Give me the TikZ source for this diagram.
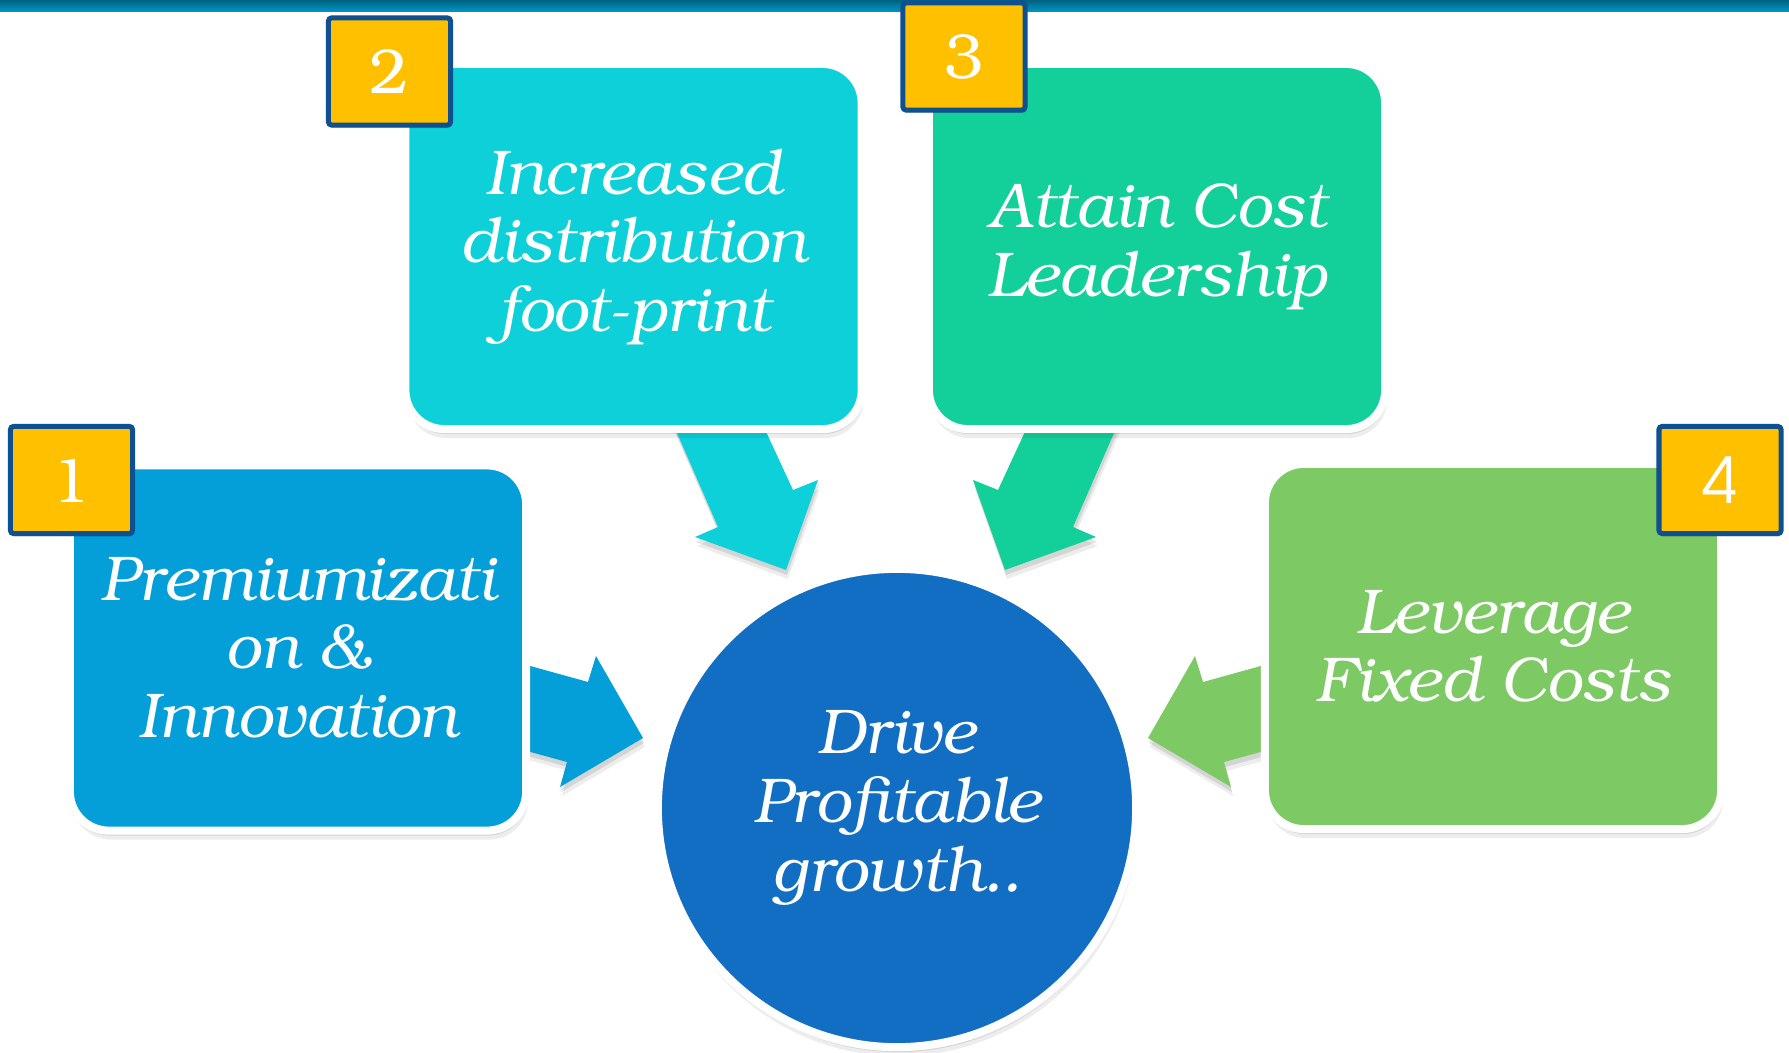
\documentclass[tikz,border=0pt]{standalone}
\usepackage[T1]{fontenc}
\usepackage{bookman}
\usetikzlibrary{shadows}
\definecolor{cBoxA}{HTML}{049FD9}
\definecolor{cBoxB}{HTML}{0DD0D9}
\definecolor{cBoxC}{HTML}{13CF9A}
\definecolor{cBoxD}{HTML}{7DCA64}
\definecolor{cCirc}{HTML}{116EC3}
\definecolor{cBadge}{HTML}{FFC000}
\definecolor{cBadgeB}{HTML}{0E5090}
\definecolor{cBarTop}{HTML}{00627F}
\definecolor{cBarBot}{HTML}{0098CC}
\tikzset{
  softshadow/.style={
    general shadow={fill=black,opacity=0.07,shadow xshift=0.02cm,shadow yshift=-0.09cm},
    general shadow={fill=black,opacity=0.10,shadow xshift=0.01cm,shadow yshift=-0.05cm}},
  rimshadow/.style={
    general shadow={fill=black,opacity=0.10,shadow scale=1.014}},
  tile/.style={rectangle, rounded corners=0.39cm, draw=white, line width=0.08cm,
    minimum width=4.56cm, minimum height=3.65cm, softshadow, rimshadow,
    text=white, align=center, font=\fontsize{18}{19.5}\selectfont\itshape},
  hub/.style={circle, draw=white, line width=0.08cm, fill=cCirc, minimum size=4.78cm,
    softshadow, rimshadow, text=white, align=center, font=\fontsize{18}{19.6}\selectfont\itshape},
  badge/.style={rectangle, rounded corners=0.03cm, draw=cBadgeB, line width=0.05cm,
    fill=cBadge, minimum width=1.22cm, minimum height=1.07cm, text=white,
    font=\fontsize{18}{20}\selectfont,
    general shadow={fill=black,opacity=0.12,shadow xshift=0.01cm,shadow yshift=-0.03cm}},
  blockarrow/.style={softshadow}
}
\begin{document}
\begin{tikzpicture}[x=0.01cm,y=-0.01cm]
\useasboundingbox (0,0) rectangle (1789,1052);
\fill[white] (0,0) rectangle (1789,1052);
\shade[top color=cBarTop, bottom color=cBarBot] (0,0) rectangle (1789,12);

% block arrows (drawn first, under the tiles)
\fill[cBoxA, blockarrow] (505,659) -- (588,682) -- (596,656) -- (643,738) -- (560,787) -- (567,762) -- (505,745) -- cycle;
\fill[cBoxD, blockarrow] (1286,659) -- (1203,682) -- (1195,656) -- (1148,738) -- (1231,787) -- (1224,762) -- (1286,745) -- cycle;
\fill[cBoxB, blockarrow] (667,410) -- (756,410) -- (793,490) -- (818,480) -- (786,570) -- (695,537) -- (718,527) -- cycle;
\fill[cBoxC, blockarrow] (1124,410) -- (1035,410) -- (998,490) -- (973,480) -- (1005,570) -- (1096,537) -- (1073,527) -- cycle;

% tiles
\node[tile, fill=cBoxA] (t1) at (298,648) {Premiumizati\\on \&\\Innovation};
\node[tile, fill=cBoxB] (t2) at (633.5,246.5) {Increased\\distribution\\foot-print};
\node[tile, fill=cBoxC] (t3) at (1157,246.5) {Attain Cost\\Leadership};
\node[tile, fill=cBoxD] (t4) at (1493,646.5) {Leverage\\Fixed Costs};

% hub
\node[hub] (hub) at (897,808) {Drive\\Profitable\\growth..};

% badges
\node[badge] (n1) at (71.5,480) {1};
\node[badge] (n2) at (389.5,71.5) {2};
\node[badge] (n3) at (964,56.5) {3};
\node[badge] (n4) at (1720,480) {\sffamily 4};
\end{tikzpicture}
\end{document}
